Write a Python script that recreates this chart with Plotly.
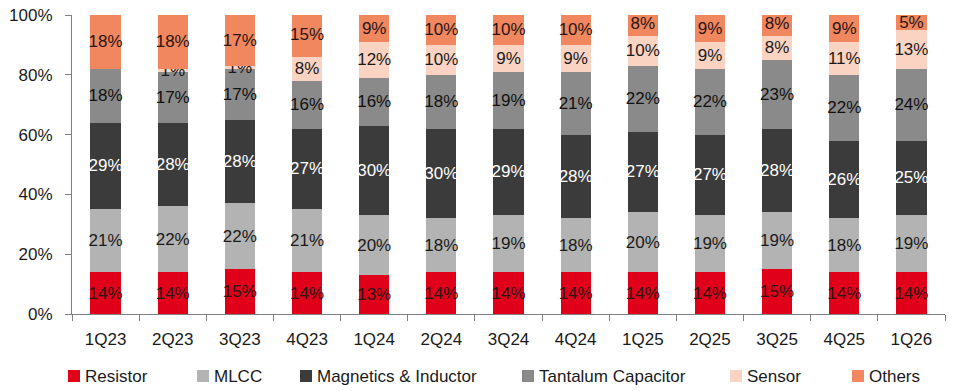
import plotly.graph_objects as go

quarters = ["1Q23", "2Q23", "3Q23", "4Q23", "1Q24", "2Q24", "3Q24",
            "4Q24", "1Q25", "2Q25", "3Q25", "4Q25", "1Q26"]

resistor = [14, 14, 15, 14, 13, 14, 14, 14, 14, 14, 15, 14, 14]
mlcc = [21, 22, 22, 21, 20, 18, 19, 18, 20, 19, 19, 18, 19]
magnetics = [29, 28, 28, 27, 30, 30, 29, 28, 27, 27, 28, 26, 25]
tantalum = [18, 17, 17, 16, 16, 18, 19, 21, 22, 22, 23, 22, 24]
sensor = [0, 1, 1, 8, 12, 10, 9, 9, 10, 9, 8, 11, 13]
others = [18, 18, 17, 15, 9, 10, 10, 10, 8, 9, 8, 9, 5]

series = [
    ("Resistor", resistor, "#E1001A", "#2a1414"),
    ("MLCC", mlcc, "#B3B3B3", "#1a1a1a"),
    ("Magnetics & Inductor", magnetics, "#3B3B3B", "#ffffff"),
    ("Tantalum Capacitor", tantalum, "#8A8A8A", "#111111"),
    ("Sensor", sensor, "#FAD3C2", "#1a1a1a"),
    ("Others", others, "#F0875E", "#2a1414"),
]

FONT = "Liberation Sans, Arial, sans-serif"
FS = 17

# plot area geometry in pixels
W, H = 956, 391
ML, MR, MT, MB = 72, 11, 15, 77
PW, PH = W - ML - MR, H - MT - MB

fig = go.Figure()
for name, vals, color, tcolor in series:
    fig.add_trace(go.Bar(
        x=quarters,
        y=vals,
        name=name,
        marker=dict(color=color, line=dict(width=0)),
        text=[f"{v}%" if v else "" for v in vals],
        textposition="inside",
        insidetextanchor="middle",
        textangle=0,
        textfont=dict(family=FONT, size=FS, color=tcolor),
        showlegend=False,
    ))

# legend row: swatch + label, placed in pixel units along the bottom
legend_x = [68, 197, 300, 522, 730, 852]
legend_y = 376
for (name, _, color, _), lx in zip(series, legend_x):
    x0 = (lx - ML) / PW
    x1 = (lx + 12 - ML) / PW
    y0 = (MT + PH - (legend_y + 6)) / PH
    y1 = (MT + PH - (legend_y - 6)) / PH
    fig.add_shape(type="rect", xref="paper", yref="paper",
                  x0=x0, x1=x1, y0=y0, y1=y1,
                  fillcolor=color, line=dict(width=0))
    fig.add_annotation(xref="paper", yref="paper",
                       x=(lx + 15 - ML) / PW, y=(MT + PH - legend_y) / PH,
                       xanchor="left", yanchor="middle", showarrow=False,
                       text=name, font=dict(family=FONT, size=FS, color="#1a1a1a"))

fig.update_layout(
    barmode="stack",
    bargap=0.55,
    width=W,
    height=H,
    margin=dict(l=ML, r=MR, t=MT, b=MB),
    plot_bgcolor="white",
    paper_bgcolor="white",
    font=dict(family=FONT, size=FS, color="#1a1a1a"),
    uniformtext=dict(minsize=FS, mode="show"),
    showlegend=False,
)

fig.update_xaxes(
    automargin=False,
    showline=True, linecolor="#808080", linewidth=1,
    ticks="outside", tickson="boundaries", ticklen=6, tickcolor="#808080",
    ticklabelstandoff=10,
    tickfont=dict(family=FONT, size=FS, color="#1a1a1a"),
    showgrid=False,
)
fig.update_yaxes(
    automargin=False,
    range=[0, 100],
    tickvals=[0, 20, 40, 60, 80, 100],
    ticktext=["0%", "20%", "40%", "60%", "80%", "100%"],
    showline=True, linecolor="#808080", linewidth=1,
    ticks="outside", ticklen=6, tickcolor="#808080",
    ticklabelstandoff=9,
    tickfont=dict(family=FONT, size=FS, color="#1a1a1a"),
    showgrid=False, zeroline=False,
)

fig.write_html("out.html")
